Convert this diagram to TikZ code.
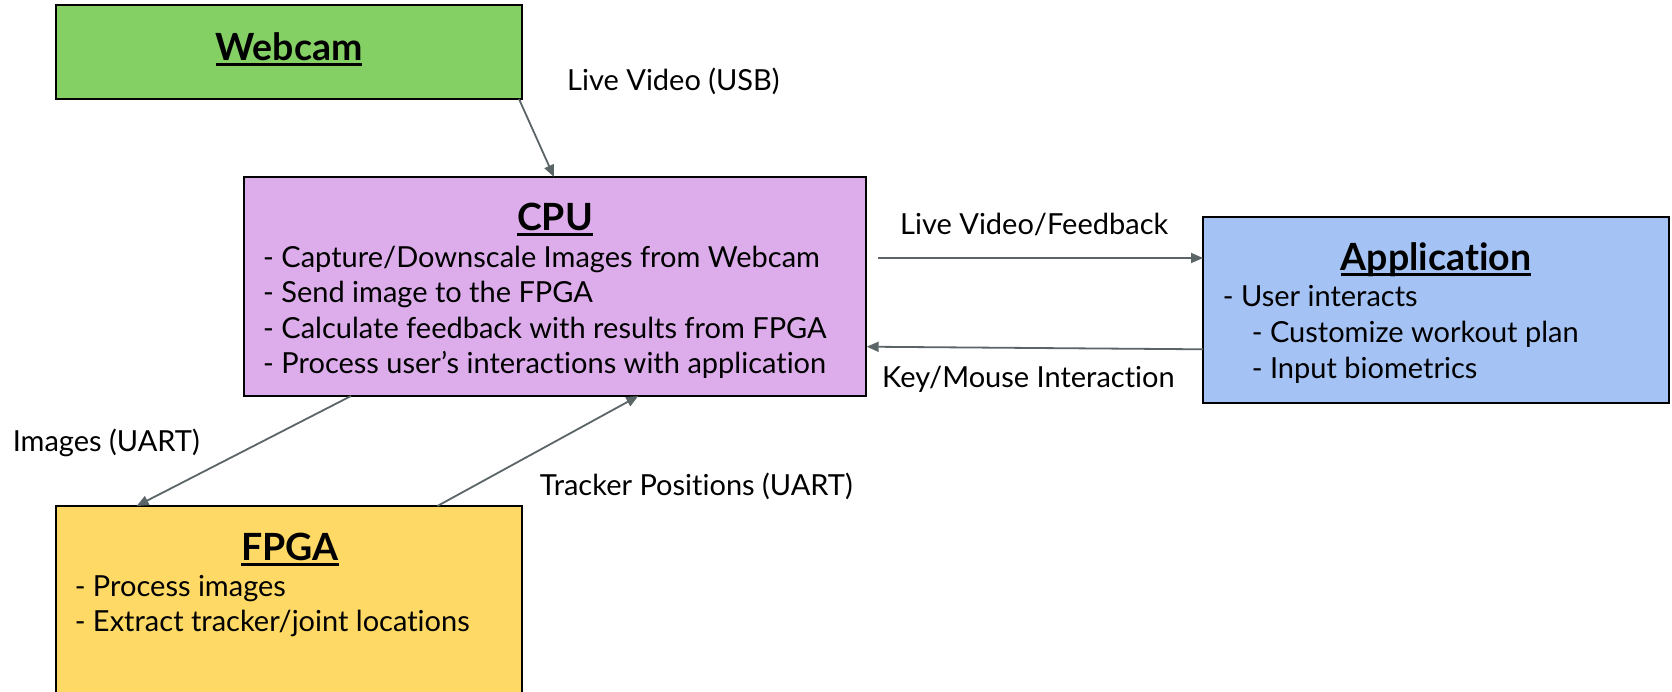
\documentclass[tikz,border=0pt]{standalone}
\usepackage{fontspec}
\setmainfont{Lato}[Ligatures={NoCommon}]
\usetikzlibrary{arrows.meta,calc}
\definecolor{webg}{HTML}{85D065}
\definecolor{cpup}{HTML}{DCADEA}
\definecolor{appb}{HTML}{A4C2F4}
\definecolor{fpgay}{HTML}{FED966}
\definecolor{arrowc}{HTML}{5B6568}
\newcommand{\ultitle}[1]{\setbox0=\hbox{\bfseries #1}\rlap{\rule[-6pt]{\wd0}{3.5pt}}\box0}
\begin{document}
\begin{tikzpicture}[x=1pt,y=-1pt,
  blockbox/.style={draw=black,line width=2pt,inner sep=0pt,outer sep=0pt},
  titletext/.style={anchor=base,inner sep=0pt,font=\fontsize{37.5}{42}\selectfont},
  bodytext/.style={anchor=base west,inner sep=0pt,font=\fontsize{29}{34}\selectfont},
  conn/.style={draw=arrowc,line width=1.8pt,-{Triangle[length=12pt,width=10pt]}}]
\useasboundingbox (0,0) rectangle (1672,691);
\clip (0,0) rectangle (1672,691);
\fill[white] (0,0) rectangle (1672,691);

% boxes
\node[blockbox,fill=webg,minimum width=466pt,minimum height=94pt] (web) at (289,52) {};
\node[blockbox,fill=cpup,minimum width=622pt,minimum height=219pt] (cpu) at (555,286.5) {};
\node[blockbox,fill=appb,minimum width=466pt,minimum height=186pt] (app) at (1436,310) {};
\node[blockbox,fill=fpgay,minimum width=466pt,minimum height=240pt] (fpga) at (289,626) {};

% titles
\node[titletext] (webt) at (289,60) {\ultitle{Webcam}};
\node[titletext] (cput) at (555,230) {\ultitle{CPU}};
\node[titletext] (appt) at (1436,270) {\ultitle{Application}};
\node[titletext] (fpgat) at (290,560) {\ultitle{FPGA}};

% CPU lines
\node[bodytext] (c1) at (263,267) {- Capture/Downscale Images from Webcam};
\node[bodytext] (c2) at (263,302.5) {- Send image to the FPGA};
\node[bodytext] (c3) at (263,338) {- Calculate feedback with results from FPGA};
\node[bodytext] (c4) at (263,373.5) {- Process user’s interactions with application};

% Application lines
\node[bodytext] (a1) at (1222.7,306.5) {- User interacts};
\node[bodytext] (a2) at (1251.6,342.5) {- Customize workout plan};
\node[bodytext] (a3) at (1251.6,378) {- Input biometrics};

% FPGA lines
\node[bodytext] (f1) at (74.6,596) {- Process images};
\node[bodytext] (f2) at (74.6,631.5) {- Extract tracker/joint locations};

% connector labels
\node[bodytext] (lusb) at (567,90) {Live Video (USB)};
\node[bodytext] (lfb) at (900,234) {Live Video/Feedback};
\node[bodytext] (lkm) at (882,387) {Key/Mouse Interaction};
\node[bodytext] (limg) at (12.6,451) {Images (UART)};
\node[bodytext] (ltr) at (539.6,495) {Tracker Positions (UART)};

% connector end points
\coordinate (w1) at ($(web.south east)+(-3,0)$);
\coordinate (c2a) at ($(cpu.north west)+(310,0)$);
\coordinate (cpuout) at ($(cpu.north east)+(12,81)$);
\coordinate (appin) at ($(app.north west)+(0,41)$);
\coordinate (appout) at ($(app.north west)+(0,132.3)$);
\coordinate (cpuin) at ($(cpu.north east)+(0.7,169.7)$);
\coordinate (cimg) at ($(cpu.south west)+(107,0)$);
\coordinate (fimg) at ($(fpga.north west)+(80.6,0)$);
\coordinate (ftr) at ($(fpga.north west)+(381.4,0)$);
\coordinate (ctr) at ($(cpu.south west)+(394.3,0)$);

% connectors
\draw[conn] (w1) -- (c2a);
\draw[conn] (cpuout) -- (appin);
\draw[conn] (appout) -- (cpuin);
\draw[conn] (cimg) -- (fimg);
\draw[conn] (ftr) -- (ctr);
\end{tikzpicture}
\end{document}
